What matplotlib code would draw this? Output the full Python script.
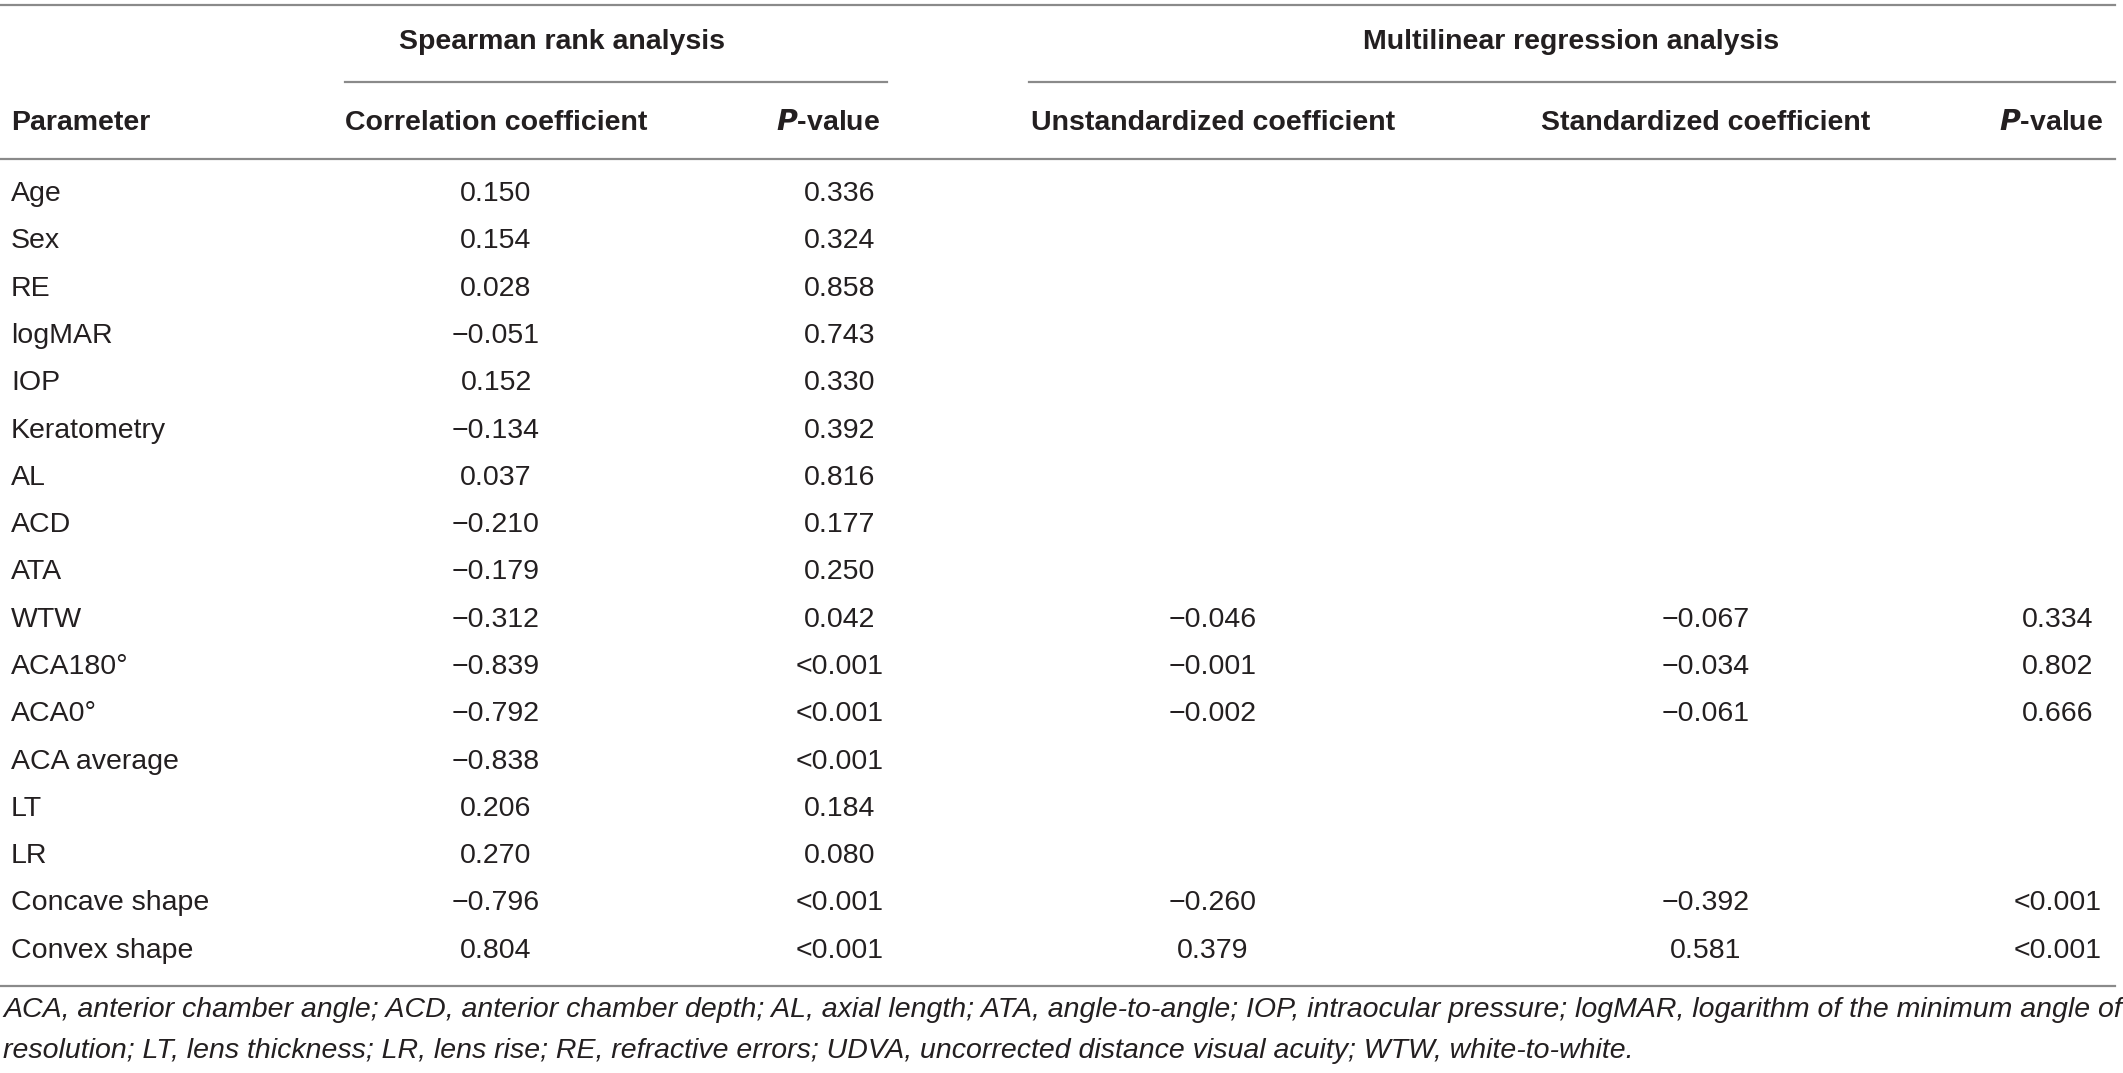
import matplotlib.pyplot as plt

# ---- data ----
parameters = ["Age", "Sex", "RE", "logMAR", "IOP", "Keratometry", "AL", "ACD", "ATA",
              "WTW", "ACA180°", "ACA0°", "ACA average", "LT", "LR",
              "Concave shape", "Convex shape"]
spearman_r = ["0.150", "0.154", "0.028", "−0.051", "0.152", "−0.134", "0.037", "−0.210",
              "−0.179", "−0.312", "−0.839", "−0.792", "−0.838", "0.206", "0.270",
              "−0.796", "0.804"]
spearman_p = ["0.336", "0.324", "0.858", "0.743", "0.330", "0.392", "0.816", "0.177",
              "0.250", "0.042", "<0.001", "<0.001", "<0.001", "0.184", "0.080",
              "<0.001", "<0.001"]
# multilinear regression only for some rows (row index -> value)
unstd_coef = {9: "−0.046", 10: "−0.001", 11: "−0.002", 15: "−0.260", 16: "0.379"}
std_coef = {9: "−0.067", 10: "−0.034", 11: "−0.061", 15: "−0.392", 16: "0.581"}
reg_p = {9: "0.334", 10: "0.802", 11: "0.666", 15: "<0.001", 16: "<0.001"}

group_titles = ["Spearman rank analysis", "Multilinear regression analysis"]
col_headers = ["Parameter", "Correlation coefficient", "-value",
               "Unstandardized coefficient", "Standardized coefficient", "-value"]
footnote = ["ACA, anterior chamber angle; ACD, anterior chamber depth; AL, axial length; "
            "ATA, angle-to-angle; IOP, intraocular pressure; logMAR, logarithm of the minimum angle of",
            "resolution; LT, lens thickness; LR, lens rise; RE, refractive errors; "
            "UDVA, uncorrected distance visual acuity; WTW, white-to-white."]

# ---- layout (pixel coords) ----
W, H = 2123, 1073
fig = plt.figure(figsize=(W / 100, H / 100), dpi=100)
ax = fig.add_axes([0, 0, 1, 1])
ax.set_xlim(0, W)
ax.set_ylim(H, 0)
ax.axis("off")

plt.rcParams["font.family"] = ["Liberation Sans", "DejaVu Sans"]
txt = "#231f20"
line_c = "#8a8a8a"
fs = 20.5

col_x = [11, 496, 840, 1213, 1706, 2058]
head_x = [11, 496, 828, 1213, 1706, 2051]

# rules
ax.plot([0, 2115], [5, 5], color=line_c, lw=1.6)
ax.plot([345, 887], [82, 82], color=line_c, lw=1.6)
ax.plot([1029, 2115], [82, 82], color=line_c, lw=1.6)
ax.plot([0, 2115], [159, 159], color=line_c, lw=1.6)
ax.plot([0, 2115], [986, 986], color=line_c, lw=1.6)

# group titles
ax.text(562, 42, group_titles[0], ha="center", va="center", fontsize=fs, weight="bold", color=txt)
ax.text(1571, 42, group_titles[1], ha="center", va="center", fontsize=fs, weight="bold", color=txt)

# column headers
hy = 123
for i, h in enumerate(col_headers):
    if h == "-value":
        ax.text(head_x[i], hy, r"$\bfit{P}$" + "-value", ha="center", va="center",
                fontsize=fs, weight="bold", color=txt)
    elif i == 0:
        ax.text(head_x[i], hy, h, ha="left", va="center", fontsize=fs, weight="bold", color=txt)
    else:
        ax.text(head_x[i], hy, h, ha="center", va="center", fontsize=fs, weight="bold", color=txt)

# body rows
y0, dy = 194, 47.3
for r, name in enumerate(parameters):
    y = y0 + r * dy
    ax.text(col_x[0], y, name, ha="left", va="center", fontsize=fs, color=txt)
    ax.text(col_x[1], y, spearman_r[r], ha="center", va="center", fontsize=fs, color=txt)
    ax.text(col_x[2], y, spearman_p[r], ha="center", va="center", fontsize=fs, color=txt)
    if r in unstd_coef:
        ax.text(col_x[3], y, unstd_coef[r], ha="center", va="center", fontsize=fs, color=txt)
        ax.text(col_x[4], y, std_coef[r], ha="center", va="center", fontsize=fs, color=txt)
        ax.text(col_x[5], y, reg_p[r], ha="center", va="center", fontsize=fs, color=txt)

# footnote
ax.text(3, 1010, footnote[0], ha="left", va="center", fontsize=fs, style="italic", color=txt)
ax.text(3, 1051, footnote[1], ha="left", va="center", fontsize=fs, style="italic", color=txt)

fig.savefig("out.png", dpi=100)
